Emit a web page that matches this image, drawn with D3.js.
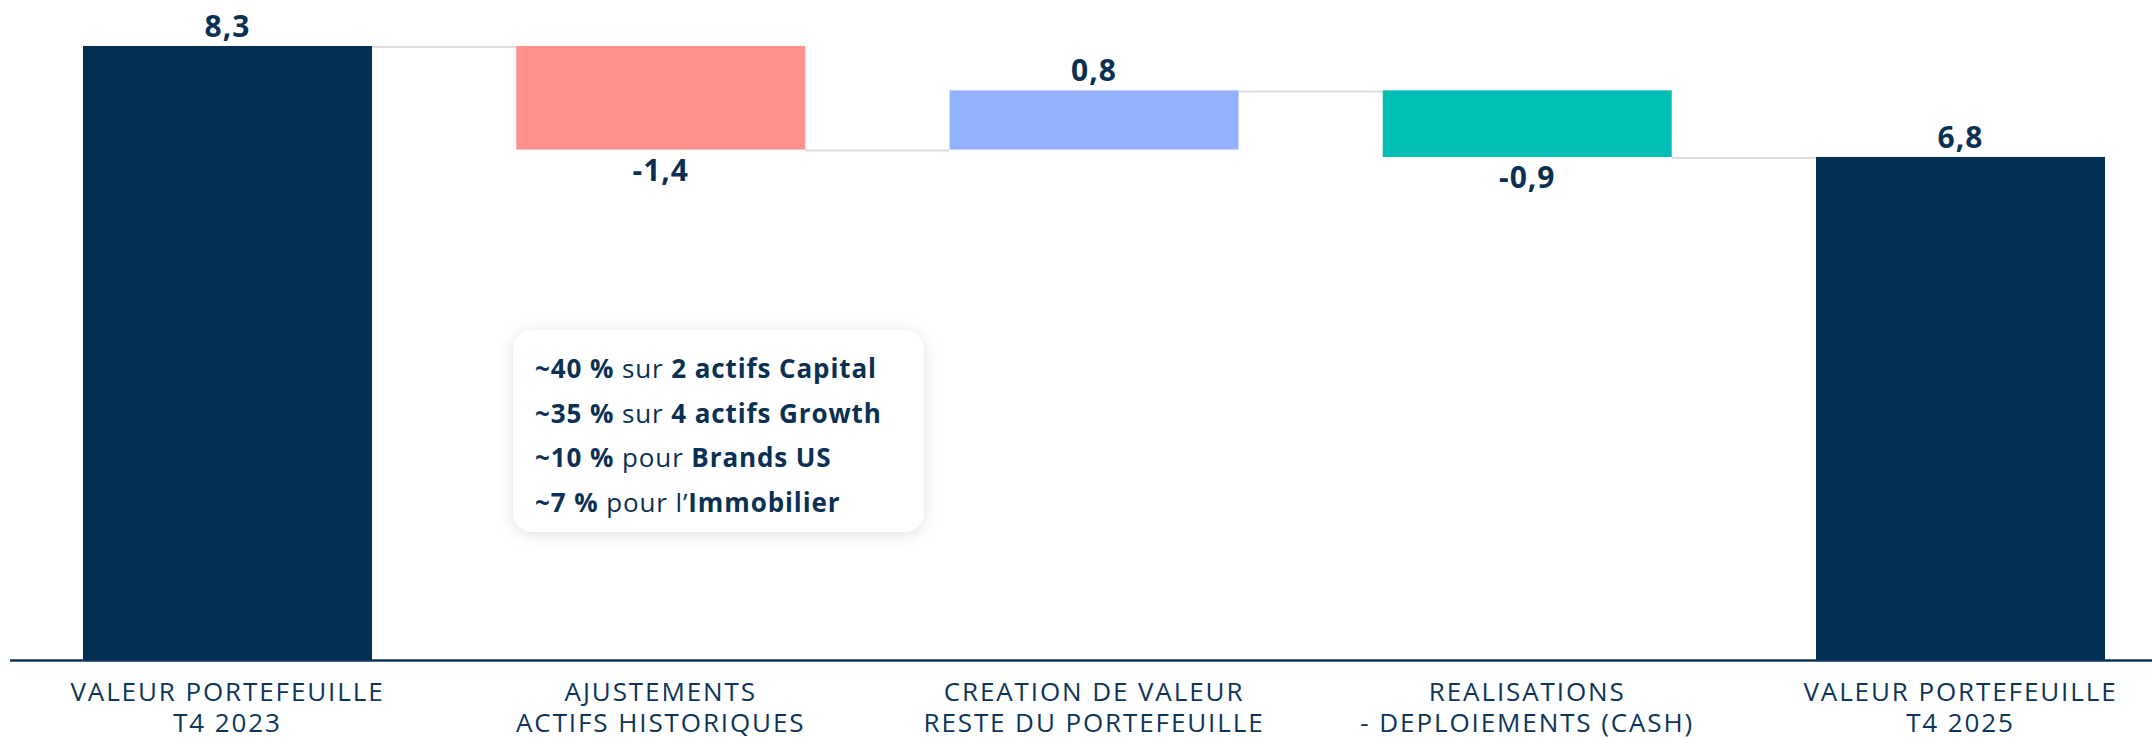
<!DOCTYPE html>
<html>
<head>
<meta charset="utf-8">
<script src="https://cdn.jsdelivr.net/npm/d3@7"></script>
<style>
  html, body { margin: 0; padding: 0; background: #ffffff; }
  svg { display: block; }
  .cat-label { font-family: "Open Sans", "Noto Sans", sans-serif; font-weight: 400; fill: #0d3559; letter-spacing: 1.9px; }
  .val-label { font-family: "Open Sans", "Noto Sans", sans-serif; font-weight: 700; fill: #0a3154; letter-spacing: 1px; }
  .note-text { font-family: "Open Sans", "Noto Sans", sans-serif; fill: #0a3154; letter-spacing: 0.9px; }
</style>
</head>
<body>
<svg id="chart_svg"></svg>
<script>
// Waterfall data
var categories = [
    ["VALEUR PORTEFEUILLE", "T4 2023"],
    ["AJUSTEMENTS", "ACTIFS HISTORIQUES"],
    ["CREATION DE VALEUR", "RESTE DU PORTEFEUILLE"],
    ["REALISATIONS", "- DEPLOIEMENTS (CASH)"],
    ["VALEUR PORTEFEUILLE", "T4 2025"]
];
var values = [8.3, -1.4, 0.8, -0.9, 6.8];
var kinds = ["total", "delta", "delta", "delta", "total"];
var colors = ["#022f52", "#fe918b", "#93b2fe", "#00beb4", "#022f52"];

// Annotation box lines (bold / regular runs)
var noteLines = [
    [["~40 %", true], [" sur ", false], ["2 actifs Capital", true]],
    [["~35 %", true], [" sur ", false], ["4 actifs Growth", true]],
    [["~10 %", true], [" pour ", false], ["Brands US", true]],
    [["~7 %", true], [" pour l\u2019", false], ["Immobilier", true]]
];

var width = 2152, height = 738;
var margin = { top: 46, bottom: 78, left: 10 };

var svg = d3.select('#chart_svg')
    .attr('width', width)
    .attr('height', height);

// compute start/end of each step
var steps = [];
var running = 0;
values.forEach(function (v, i) {
    var start, end;
    if (kinds[i] === "total") {
        start = 0; end = v; running = v;
    } else {
        start = running; end = running + v; running = end;
    }
    steps.push({ i: i, v: v, start: start, end: end, kind: kinds[i], color: colors[i], cat: categories[i] });
});

var x = d3.scaleBand()
    .domain(d3.range(values.length))
    .range([margin.left, 2178])
    .paddingInner(0.333)
    .paddingOuter(0.1685);

var y = d3.scaleLinear()
    .domain([0, d3.max(values)])
    .range([height - margin.bottom, margin.top]);

var fmt = function (v) { return d3.format(".1f")(v).replace(".", ",").replace("\u2212", "-"); };

// connectors
var conn = svg.append('g').attr('class', 'connectors');
conn.selectAll('line')
    .data(steps.slice(0, -1))
    .enter()
    .append('line')
    .attr('x1', function (d) { return x(d.i) + x.bandwidth(); })
    .attr('x2', function (d) { return x(d.i + 1); })
    .attr('y1', function (d) { return y(d.end) + 1; })
    .attr('y2', function (d) { return y(d.end) + 1; })
    .attr('stroke', '#dcdcdc')
    .attr('stroke-width', 2);

// bars
svg.append('g').attr('class', 'bars')
    .selectAll('rect')
    .data(steps)
    .enter()
    .append('rect')
    .attr('x', function (d) { return x(d.i); })
    .attr('width', x.bandwidth())
    .attr('y', function (d) { return y(Math.max(d.start, d.end)); })
    .attr('height', function (d) { return Math.abs(y(d.start) - y(d.end)); })
    .attr('fill', function (d) { return d.color; });

// value labels
svg.append('g').attr('class', 'values')
    .selectAll('text')
    .data(steps)
    .enter()
    .append('text')
    .attr('class', 'val-label')
    .attr('text-anchor', 'middle')
    .attr('font-size', 30)
    .attr('x', function (d) { return x(d.i) + x.bandwidth() / 2; })
    .attr('y', function (d) {
        if (d.v < 0) return y(Math.min(d.start, d.end)) + 31;
        return y(Math.max(d.start, d.end)) - 9;
    })
    .text(function (d) { return fmt(d.v); });

// x axis line
svg.append('line')
    .attr('x1', margin.left)
    .attr('x2', width)
    .attr('y1', y(0) + 0.5)
    .attr('y2', y(0) + 0.5)
    .attr('stroke', '#0d3559')
    .attr('stroke-width', 2.5);

// category labels
var cats = svg.append('g').attr('class', 'cats')
    .selectAll('text')
    .data(steps)
    .enter()
    .append('text')
    .attr('class', 'cat-label')
    .attr('text-anchor', 'middle')
    .attr('font-size', 26)
    .attr('x', function (d) { return x(d.i) + x.bandwidth() / 2; })
    .attr('y', 701);
cats.selectAll('tspan')
    .data(function (d) { return d.cat.map(function (t) { return { t: t, x: x(d.i) + x.bandwidth() / 2 }; }); })
    .enter()
    .append('tspan')
    .attr('x', function (d) { return d.x; })
    .attr('dy', function (d, j) { return j === 0 ? 0 : 31; })
    .text(function (d) { return d.t; });

// annotation box
var defs = svg.append('defs');
var filt = defs.append('filter')
    .attr('id', 'box_shadow')
    .attr('x', '-20%').attr('y', '-20%')
    .attr('width', '140%').attr('height', '140%');
filt.append('feDropShadow')
    .attr('dx', 0).attr('dy', 2)
    .attr('stdDeviation', 8)
    .attr('flood-color', '#000')
    .attr('flood-opacity', 0.13);

var note = svg.append('g')
    .attr('class', 'note')
    .attr('transform', 'translate(513,330)');
note.append('rect')
    .attr('width', 411)
    .attr('height', 202)
    .attr('rx', 20)
    .attr('fill', '#ffffff')
    .attr('filter', 'url(#box_shadow)');

var noteText = note.selectAll('text.note-text')
    .data(noteLines)
    .enter()
    .append('text')
    .attr('class', 'note-text')
    .attr('font-size', 26)
    .attr('x', 22)
    .attr('y', function (d, i) { return 48 + i * 44.7; });
noteText.selectAll('tspan')
    .data(function (d) { return d; })
    .enter()
    .append('tspan')
    .attr('font-weight', function (d) { return d[1] ? 700 : 400; })
    .attr('xml:space', 'preserve')
    .style('white-space', 'pre')
    .text(function (d) { return d[0]; });
</script>
</body>
</html>
